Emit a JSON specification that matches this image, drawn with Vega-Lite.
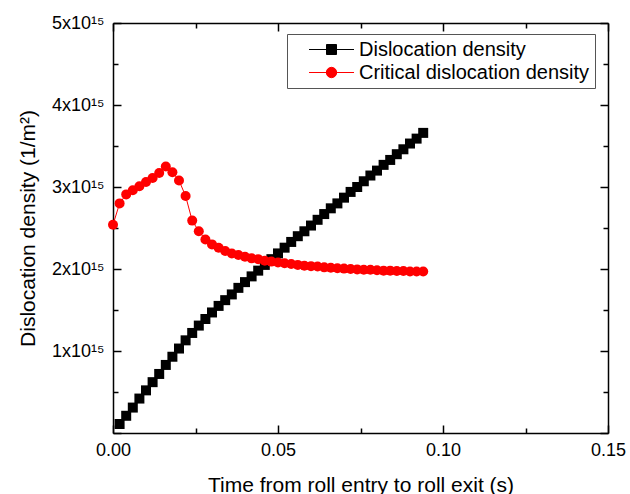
{
  "$schema": "https://vega.github.io/schema/vega-lite/v6.json",
  "autosize": "none",
  "width": 495,
  "height": 410,
  "padding": {"left": 113, "top": 23, "right": 22, "bottom": 61},
  "background": "white",
  "config": {
    "font": "Liberation Sans",
    "view": {"stroke": null},
    "axis": {
      "grid": false,
      "domainColor": "black",
      "domainWidth": 1.5,
      "tickColor": "black",
      "tickWidth": 1.5,
      "labelFont": "Liberation Sans",
      "labelFontSize": 18,
      "labelColor": "black",
      "titleFont": "Liberation Sans",
      "titleFontSize": 21,
      "titleFontWeight": "normal",
      "titleColor": "black"
    }
  },
  "data": {
    "values": [
      {"t": 0.002, "rho": 0.11e15, "series": "Dislocation density"},
      {"t": 0.004, "rho": 0.21e15, "series": "Dislocation density"},
      {"t": 0.006, "rho": 0.31e15, "series": "Dislocation density"},
      {"t": 0.008, "rho": 0.42e15, "series": "Dislocation density"},
      {"t": 0.010, "rho": 0.52e15, "series": "Dislocation density"},
      {"t": 0.012, "rho": 0.62e15, "series": "Dislocation density"},
      {"t": 0.014, "rho": 0.72e15, "series": "Dislocation density"},
      {"t": 0.016, "rho": 0.83e15, "series": "Dislocation density"},
      {"t": 0.018, "rho": 0.93e15, "series": "Dislocation density"},
      {"t": 0.020, "rho": 1.03e15, "series": "Dislocation density"},
      {"t": 0.022, "rho": 1.13e15, "series": "Dislocation density"},
      {"t": 0.024, "rho": 1.22e15, "series": "Dislocation density"},
      {"t": 0.026, "rho": 1.31e15, "series": "Dislocation density"},
      {"t": 0.028, "rho": 1.39e15, "series": "Dislocation density"},
      {"t": 0.030, "rho": 1.47e15, "series": "Dislocation density"},
      {"t": 0.032, "rho": 1.55e15, "series": "Dislocation density"},
      {"t": 0.034, "rho": 1.62e15, "series": "Dislocation density"},
      {"t": 0.036, "rho": 1.69e15, "series": "Dislocation density"},
      {"t": 0.038, "rho": 1.77e15, "series": "Dislocation density"},
      {"t": 0.040, "rho": 1.84e15, "series": "Dislocation density"},
      {"t": 0.042, "rho": 1.91e15, "series": "Dislocation density"},
      {"t": 0.044, "rho": 1.98e15, "series": "Dislocation density"},
      {"t": 0.046, "rho": 2.05e15, "series": "Dislocation density"},
      {"t": 0.048, "rho": 2.12e15, "series": "Dislocation density"},
      {"t": 0.050, "rho": 2.19e15, "series": "Dislocation density"},
      {"t": 0.052, "rho": 2.26e15, "series": "Dislocation density"},
      {"t": 0.054, "rho": 2.33e15, "series": "Dislocation density"},
      {"t": 0.056, "rho": 2.40e15, "series": "Dislocation density"},
      {"t": 0.058, "rho": 2.46e15, "series": "Dislocation density"},
      {"t": 0.060, "rho": 2.53e15, "series": "Dislocation density"},
      {"t": 0.062, "rho": 2.60e15, "series": "Dislocation density"},
      {"t": 0.064, "rho": 2.67e15, "series": "Dislocation density"},
      {"t": 0.066, "rho": 2.74e15, "series": "Dislocation density"},
      {"t": 0.068, "rho": 2.80e15, "series": "Dislocation density"},
      {"t": 0.070, "rho": 2.87e15, "series": "Dislocation density"},
      {"t": 0.072, "rho": 2.94e15, "series": "Dislocation density"},
      {"t": 0.074, "rho": 3.00e15, "series": "Dislocation density"},
      {"t": 0.076, "rho": 3.07e15, "series": "Dislocation density"},
      {"t": 0.078, "rho": 3.14e15, "series": "Dislocation density"},
      {"t": 0.080, "rho": 3.20e15, "series": "Dislocation density"},
      {"t": 0.082, "rho": 3.27e15, "series": "Dislocation density"},
      {"t": 0.084, "rho": 3.33e15, "series": "Dislocation density"},
      {"t": 0.086, "rho": 3.40e15, "series": "Dislocation density"},
      {"t": 0.088, "rho": 3.46e15, "series": "Dislocation density"},
      {"t": 0.090, "rho": 3.53e15, "series": "Dislocation density"},
      {"t": 0.092, "rho": 3.59e15, "series": "Dislocation density"},
      {"t": 0.094, "rho": 3.66e15, "series": "Dislocation density"},
      {"t": 0.000, "rho": 2.54e15, "series": "Critical dislocation density"},
      {"t": 0.002, "rho": 2.80e15, "series": "Critical dislocation density"},
      {"t": 0.004, "rho": 2.91e15, "series": "Critical dislocation density"},
      {"t": 0.006, "rho": 2.96e15, "series": "Critical dislocation density"},
      {"t": 0.008, "rho": 3.01e15, "series": "Critical dislocation density"},
      {"t": 0.010, "rho": 3.06e15, "series": "Critical dislocation density"},
      {"t": 0.012, "rho": 3.11e15, "series": "Critical dislocation density"},
      {"t": 0.014, "rho": 3.17e15, "series": "Critical dislocation density"},
      {"t": 0.016, "rho": 3.25e15, "series": "Critical dislocation density"},
      {"t": 0.018, "rho": 3.18e15, "series": "Critical dislocation density"},
      {"t": 0.020, "rho": 3.08e15, "series": "Critical dislocation density"},
      {"t": 0.022, "rho": 2.89e15, "series": "Critical dislocation density"},
      {"t": 0.024, "rho": 2.59e15, "series": "Critical dislocation density"},
      {"t": 0.026, "rho": 2.46e15, "series": "Critical dislocation density"},
      {"t": 0.028, "rho": 2.36e15, "series": "Critical dislocation density"},
      {"t": 0.030, "rho": 2.30e15, "series": "Critical dislocation density"},
      {"t": 0.032, "rho": 2.26e15, "series": "Critical dislocation density"},
      {"t": 0.034, "rho": 2.22e15, "series": "Critical dislocation density"},
      {"t": 0.036, "rho": 2.19e15, "series": "Critical dislocation density"},
      {"t": 0.038, "rho": 2.17e15, "series": "Critical dislocation density"},
      {"t": 0.040, "rho": 2.15e15, "series": "Critical dislocation density"},
      {"t": 0.042, "rho": 2.13e15, "series": "Critical dislocation density"},
      {"t": 0.044, "rho": 2.12e15, "series": "Critical dislocation density"},
      {"t": 0.046, "rho": 2.10e15, "series": "Critical dislocation density"},
      {"t": 0.048, "rho": 2.09e15, "series": "Critical dislocation density"},
      {"t": 0.050, "rho": 2.08e15, "series": "Critical dislocation density"},
      {"t": 0.052, "rho": 2.07e15, "series": "Critical dislocation density"},
      {"t": 0.054, "rho": 2.06e15, "series": "Critical dislocation density"},
      {"t": 0.056, "rho": 2.05e15, "series": "Critical dislocation density"},
      {"t": 0.058, "rho": 2.04e15, "series": "Critical dislocation density"},
      {"t": 0.060, "rho": 2.035e15, "series": "Critical dislocation density"},
      {"t": 0.062, "rho": 2.03e15, "series": "Critical dislocation density"},
      {"t": 0.064, "rho": 2.02e15, "series": "Critical dislocation density"},
      {"t": 0.066, "rho": 2.015e15, "series": "Critical dislocation density"},
      {"t": 0.068, "rho": 2.01e15, "series": "Critical dislocation density"},
      {"t": 0.070, "rho": 2.005e15, "series": "Critical dislocation density"},
      {"t": 0.072, "rho": 2.00e15, "series": "Critical dislocation density"},
      {"t": 0.074, "rho": 1.995e15, "series": "Critical dislocation density"},
      {"t": 0.076, "rho": 1.99e15, "series": "Critical dislocation density"},
      {"t": 0.078, "rho": 1.99e15, "series": "Critical dislocation density"},
      {"t": 0.080, "rho": 1.985e15, "series": "Critical dislocation density"},
      {"t": 0.082, "rho": 1.98e15, "series": "Critical dislocation density"},
      {"t": 0.084, "rho": 1.98e15, "series": "Critical dislocation density"},
      {"t": 0.086, "rho": 1.975e15, "series": "Critical dislocation density"},
      {"t": 0.088, "rho": 1.975e15, "series": "Critical dislocation density"},
      {"t": 0.090, "rho": 1.97e15, "series": "Critical dislocation density"},
      {"t": 0.092, "rho": 1.97e15, "series": "Critical dislocation density"},
      {"t": 0.094, "rho": 1.97e15, "series": "Critical dislocation density"}
    ]
  },
  "resolve": {"axis": {"x": "independent", "y": "independent"}},
  "layer": [
    {
      "mark": {"type": "line", "strokeWidth": 1},
      "encoding": {
        "x": {
          "field": "t", "type": "quantitative",
          "scale": {"domain": [0, 0.15], "nice": false, "zero": false},
          "axis": {
            "orient": "bottom",
            "title": "Time from roll entry to roll exit (s)",
            "values": [0, 0.025, 0.05, 0.075, 0.1, 0.125, 0.15],
            "labelExpr": "round(datum.value*100) % 5 === 0 ? format(datum.value, '.2f') : ''",
            "tickSize": {"condition": {"test": "round(datum.value*100) % 5 === 0", "value": -8}, "value": -5},
            "labelPadding": 16,
            "labelFlush": false,
            "titleX": 247.5,
            "titleY": 52,
            "titleAlign": "center",
            "titleBaseline": "middle"
          }
        },
        "y": {
          "field": "rho", "type": "quantitative",
          "scale": {"domain": [0, 5e15], "nice": false},
          "axis": {
            "orient": "left",
            "title": "Dislocation density (1/m²)",
            "values": [0, 5e14, 1e15, 1.5e15, 2e15, 2.5e15, 3e15, 3.5e15, 4e15, 4.5e15, 5e15],
            "labelExpr": "(datum.value === 0 || datum.value % 1e15 !== 0) ? '' : format(datum.value/1e15, 'd') + 'x10¹⁵'",
            "tickSize": {"condition": {"test": "datum.value % 1e15 === 0", "value": -8}, "value": -5},
            "labelPadding": 17,
            "labelFlush": false,
            "titleX": -85,
            "titleY": 205,
            "titleAngle": -90,
            "titleAlign": "center",
            "titleBaseline": "middle"
          }
        },
        "color": {
          "field": "series", "type": "nominal",
          "scale": {"domain": ["Dislocation density", "Critical dislocation density"], "range": ["#000000", "#ff0000"]},
          "legend": {
            "title": null,
            "orient": "none",
            "legendX": 174,
            "legendY": 11,
            "strokeColor": "#555555",
            "fillColor": "white",
            "padding": 5,
            "rowPadding": 2,
            "labelFont": "Liberation Sans",
            "labelFontSize": 20,
            "labelColor": "black",
            "labelLimit": 400,
            "symbolSize": 400,
            "symbolOffset": 29,
            "labelOffset": 17,
            "encode": {
              "symbols": {
                "update": {
                  "shape": {"signal": "datum.value === 'Dislocation density' ? 'M-2.25,0H2.25M-0.5,-0.5H0.5V0.5H-0.5Z' : 'M-2.25,0H2.25M-0.52,0A0.52,0.52,0,1,1,0.52,0A0.52,0.52,0,1,1,-0.52,0Z'"},
                  "fill": {"signal": "datum.value === 'Dislocation density' ? '#000000' : '#ff0000'"},
                  "stroke": {"signal": "datum.value === 'Dislocation density' ? '#555555' : '#ff0000'"},
                  "strokeWidth": {"value": 1},
                  "opacity": {"value": 1},
                  "fillOpacity": {"value": 1}
                }
              }
            }
          }
        }
      }
    },
    {
      "transform": [{"filter": "datum.series === 'Dislocation density'"}],
      "mark": {"type": "point", "shape": "square", "filled": true, "size": 100, "color": "#000000", "opacity": 1},
      "encoding": {
        "x": {
          "field": "t", "type": "quantitative",
          "axis": {
            "orient": "top", "title": null, "labels": false,
            "values": [0, 0.025, 0.05, 0.075, 0.1, 0.125, 0.15],
            "tickSize": {"condition": {"test": "round(datum.value*100) % 5 === 0", "value": -8}, "value": -5}
          }
        },
        "y": {
          "field": "rho", "type": "quantitative",
          "axis": {
            "orient": "right", "title": null, "labels": false,
            "values": [0, 5e14, 1e15, 1.5e15, 2e15, 2.5e15, 3e15, 3.5e15, 4e15, 4.5e15, 5e15],
            "tickSize": {"condition": {"test": "datum.value % 1e15 === 0", "value": -8}, "value": -5}
          }
        }
      }
    },
    {
      "transform": [{"filter": "datum.series === 'Critical dislocation density'"}],
      "mark": {"type": "circle", "size": 100, "color": "#ff0000", "opacity": 1},
      "encoding": {
        "x": {"field": "t", "type": "quantitative", "axis": null},
        "y": {"field": "rho", "type": "quantitative", "axis": null}
      }
    }
  ]
}
